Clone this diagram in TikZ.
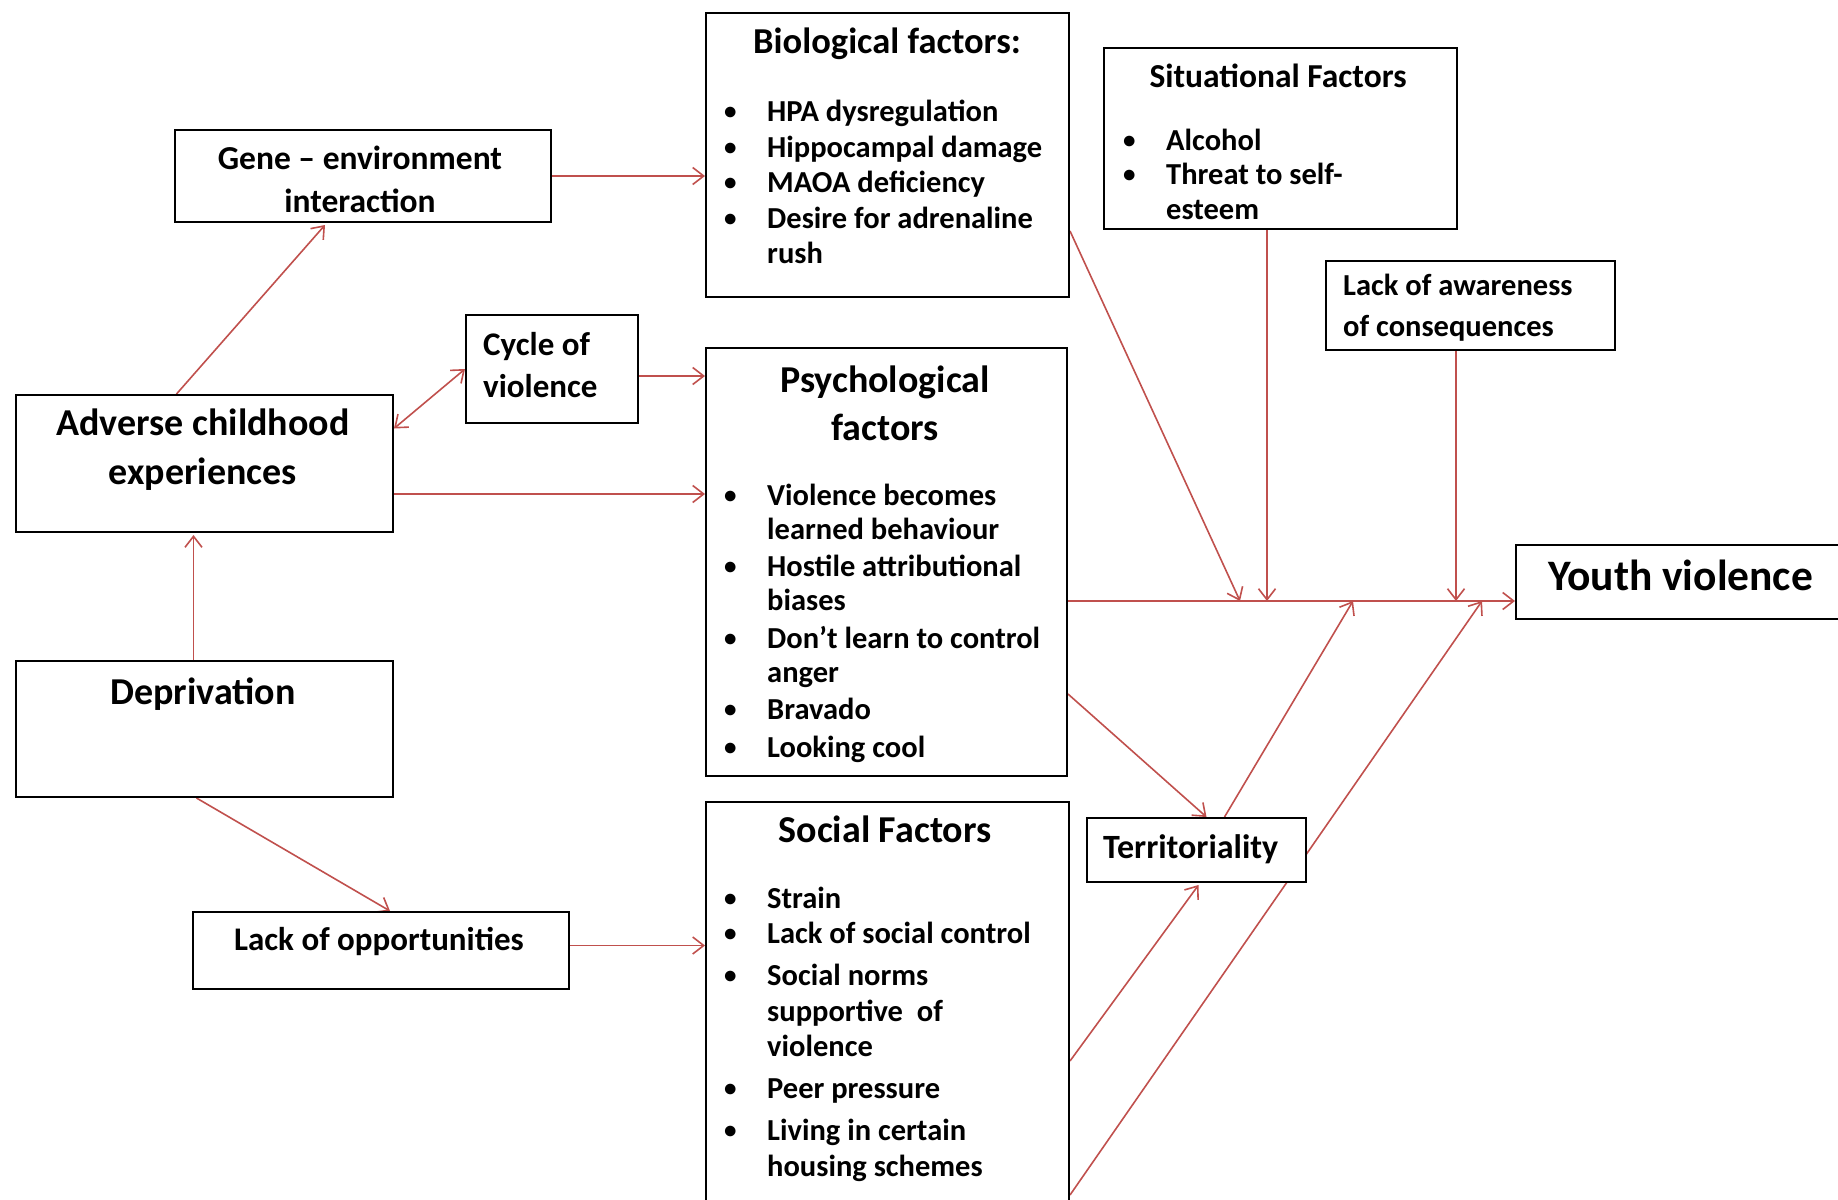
\documentclass[tikz,border=0pt]{standalone}
\usepackage{fontspec}
\setmainfont{Carlito}
\usetikzlibrary{arrows.meta,calc,backgrounds}

\definecolor{linkred}{RGB}{192,80,77}
\newlength{\bulw}
\setlength{\bulw}{44pt}
\newcommand{\bul}{\makebox[\bulw][l]{\hspace{1pt}\raisebox{1.8pt}{\fontsize{25}{25}\selectfont\textbullet}}}
\newcommand{\cont}{\hspace*{\bulw}}
\newcommand{\leftlines}[1]{\vtop{\halign{##\hfil\cr#1\crcr}}}
\newcommand{\midlines}[1]{\vtop{\halign{\hfil##\hfil\cr#1\crcr}}}
\newcommand{\gap}[1]{\noalign{\vskip#1}}

\tikzset{
    box/.style={draw, line width=2pt, fill=white, inner sep=0pt},
    txt/.style={inner sep=0pt, anchor=base west},
    ttl/.style={inner sep=0pt, anchor=base},
    link/.style={draw=linkred, line width=1.6pt, ->},
    bigfont/.style={font=\fontsize{38}{49}\selectfont\bfseries},
    midfont/.style={font=\fontsize{33.5}{43}\selectfont\bfseries},
    listfont/.style={font=\fontsize{30.5}{35.5}\selectfont\bfseries},
}

\begin{document}
\begin{tikzpicture}[x=1pt, y=-1pt, >={Straight Barb[length=11pt,width=17pt]}]
    \useasboundingbox (0,0) rectangle (1838,1199);
    \clip (0,0) rectangle (1838,1199);

    \node[box, minimum width=363pt, minimum height=284pt] (bio)     at (887.5,155.0) {};
    \node[box, minimum width=353pt, minimum height=181pt] (sit)     at (1280.5,138.5) {};
    \node[box, minimum width=289pt, minimum height=89pt]  (lackaw)  at (1470.5,305.5) {};
    \node[box, minimum width=376pt, minimum height=92pt]  (gene)    at (363.0,176.0) {};
    \node[box, minimum width=172pt, minimum height=108pt] (cycle)   at (552.0,369.0) {};
    \node[box, minimum width=361pt, minimum height=428pt] (psych)   at (886.5,562.0) {};
    \node[box, minimum width=377pt, minimum height=137pt] (adverse) at (204.5,463.5) {};
    \node[box, minimum width=377pt, minimum height=136pt] (dep)     at (204.5,729.0) {};
    \node[box, minimum width=376pt, minimum height=77pt]  (lackopp) at (381.0,950.5) {};
    \node[box, minimum width=363pt, minimum height=458pt] (social)  at (887.5,1031.0) {};
    \node[box, minimum width=219pt, minimum height=64pt]  (terr)    at (1196.5,850.0) {};
    \node[box, minimum width=344pt, minimum height=74pt]  (yv)      at (1688.0,582.0) {};

    \node[ttl, font=\fontsize{36.5}{45}\selectfont\bfseries] (bio-title) at (887,54) {Biological factors:};
    \node[txt, listfont] (bio-list) at (723,121.5) {\leftlines{\bul HPA dysregulation\cr \bul Hippocampal damage\cr
        \bul MAOA deficiency\cr \bul Desire for adrenaline\cr \cont rush}};
    \node[ttl, midfont] (sit-title) at (1278,87) {Situational Factors};
    \node[txt, font=\fontsize{30.5}{34.5}\selectfont\bfseries] (sit-list) at (1122,150)
        {\leftlines{\bul Alcohol\cr \bul Threat to self-\cr \cont esteem}};
    \node[txt, font=\fontsize{30.5}{41}\selectfont\bfseries] (lackaw-text) at (1343,295)
        {\leftlines{Lack of awareness\cr of consequences}};
    \node[ttl, midfont] (gene-text) at (360,169) {\midlines{Gene -- environment\cr interaction}};
    \node[txt, font=\fontsize{33}{42}\selectfont\bfseries] (cycle-text) at (483,355) {\leftlines{Cycle of\cr violence}};
    \node[ttl, font=\fontsize{38}{48}\selectfont\bfseries] (psych-title) at (885,392) {\midlines{Psychological\cr factors}};
    \node[txt, font=\fontsize{30.5}{34}\selectfont\bfseries] (psych-list) at (723,505)
        {\leftlines{\bul Violence becomes\cr \cont learned behaviour\cr\gap{3.5pt} \bul Hostile attributional\cr \cont biases\cr\gap{3.5pt}
         \bul Don’t learn to control\cr \cont anger\cr\gap{3.5pt} \bul Bravado\cr\gap{3.5pt} \bul Looking cool}};
    \node[ttl, bigfont] (social-title) at (885,842) {Social Factors};
    \node[txt, listfont] (social-list) at (723,908)
        {\leftlines{\bul Strain\cr \bul Lack of social control\cr\gap{6.5pt} \bul Social norms\cr \cont supportive\ \ of\cr \cont violence\cr\gap{6.5pt}
         \bul Peer pressure\cr\gap{6.5pt} \bul Living in certain\cr \cont housing schemes}};
    \node[ttl, bigfont] (adverse-text) at (203,435) {\midlines{Adverse childhood\cr experiences}};
    \node[ttl, bigfont] (dep-text) at (203,704) {Deprivation};
    \node[ttl, font=\fontsize{33}{40}\selectfont\bfseries] (lackopp-text) at (379,950) {Lack of opportunities};
    \node[txt, font=\fontsize{34}{40}\selectfont\bfseries] (terr-text) at (1103,858) {Territoriality};
    \node[txt, font=\fontsize{43.5}{50}\selectfont\bfseries] (yv-text) at (1548,590) {Youth violence};

    \coordinate (spine) at ($(psych.east)+(0,39)$);
    \coordinate (s1) at (1240,601);
    \coordinate (s3) at (1353,601);
    \coordinate (s5) at (1482,601);

    \begin{scope}[on background layer]
        \draw[link] (gene.east) -- (gene.east -| bio.west);
        \draw[link] ($(adverse.north)+(-28,0)$) -- ($(gene.south)+(-38,2)$);
        \draw[link, <->] ($(adverse.east)+(0,-35)$) -- (cycle.west);
        \draw[link] ($(cycle.east)+(0,7)$) coordinate (c1) -- (c1 -| psych.west);
        \draw[link] ($(adverse.east)+(0,30.5)$) coordinate (a1) -- (a1 -| psych.west);
        \draw[link] ($(dep.north)+(-11,0)$) -- ($(adverse.south)+(-11,2)$);
        \draw[link] ($(dep.south)+(-8,0)$) -- ($(lackopp.north)+(9,0)$);
        \draw[link] ($(lackopp.east)+(0,-5)$) coordinate (l1) -- (l1 -| social.west);
        \draw[link] (spine) -- (spine -| yv.west);
        \draw[link] ($(bio.east)+(0,76)$) -- (s1);
        \draw[link] ($(sit.south)+(-13.5,0)$) coordinate (st) -- (st |- spine);
        \draw[link] ($(lackaw.south)+(-14.5,0)$) coordinate (la) -- (la |- spine);
        \draw[link] ($(psych.east)+(0,132)$) -- ($(terr.north)+(10,0)$);
        \draw[link] ($(terr.north)+(28,0)$) -- (s3);
        \draw[link] ($(social.north east)+(0,260)$) -- ($(terr.south)+(2,2)$);
        \draw[link] ($(social.north east)+(0,394)$) -- (s5);
    \end{scope}
\end{tikzpicture}
\end{document}
